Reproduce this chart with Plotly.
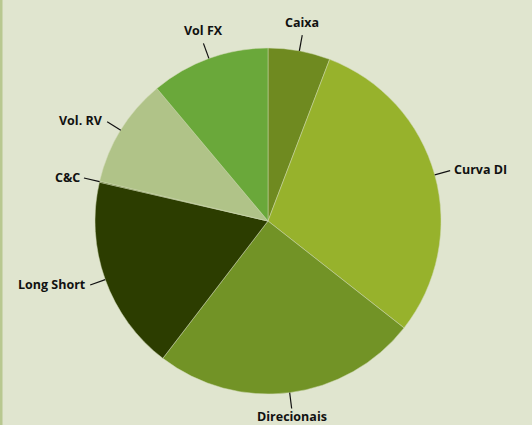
import math
import plotly.graph_objects as go

labels = ["Caixa", "Curva DI", "Direcionais", "Long Short", "C&C", "Vol. RV", "Vol FX"]
values = [5.8, 29.8, 24.8, 18.2, 0.1, 10.2, 11.1]
colors = ["#6f8a20", "#97b22c", "#729326", "#2c3d00", "#4a5e14", "#b0c388", "#6aa83a"]

W, H = 532, 425
CX, CY, R = 268, 221, 173  # pie centre/radius in px (from top-left)
BG = "#e0e5cf"

fig = go.Figure(go.Pie(
    labels=labels, values=values, sort=False, direction="clockwise", rotation=0,
    marker=dict(colors=colors, line=dict(color="#cfd8b2", width=0.5)),
    textinfo="none", hoverinfo="label+percent", showlegend=False,
    domain=dict(x=[(CX - R) / W, (CX + R) / W], y=[(H - CY - R) / H, (H - CY + R) / H]),
))

shapes = [dict(type="rect", xref="paper", yref="paper", x0=0, x1=2.5 / W, y0=0, y1=1,
               fillcolor="#b8c890", line=dict(width=0))]
annotations = []
total = sum(values)
cum = 0.0
LINE = 16
GAP = 3
for lab, v in zip(labels, values):
    mid = (cum + v / 2) / total * 2 * math.pi
    cum += v
    s, c = math.sin(mid), math.cos(mid)
    x0, y0 = CX + R * s, CY - R * c
    x1, y1 = CX + (R + LINE) * s, CY - (R + LINE) * c
    shapes.append(dict(type="line", xref="paper", yref="paper",
                       x0=x0 / W, y0=1 - y0 / H, x1=x1 / W, y1=1 - y1 / H,
                       line=dict(color="#111111", width=1.2)))
    if c > 0.8:
        xa, ya, tx, ty = "center", "bottom", x1, y1 - GAP
    elif c < -0.8:
        xa, ya, tx, ty = "center", "top", x1, y1 - 2
    elif s > 0:
        xa, ya, tx, ty = "left", "middle", x1 + GAP, y1 - 1
    else:
        xa, ya, tx, ty = "right", "middle", x1 - GAP, y1 - 1
    annotations.append(dict(text="<b>%s</b>" % lab, x=tx / W, y=1 - ty / H,
                            xref="paper", yref="paper", xanchor=xa, yanchor=ya,
                            showarrow=False, borderpad=0,
                            font=dict(family="Open Sans", size=12.5, color="#111111")))

fig.update_layout(width=W, height=H, paper_bgcolor=BG, plot_bgcolor=BG,
                  margin=dict(l=0, r=0, t=0, b=0), shapes=shapes, annotations=annotations)
fig.write_html("out.html", config={"displayModeBar": False},
               post_script="document.body.style.margin='0';document.body.style.background='%s';" % BG)
